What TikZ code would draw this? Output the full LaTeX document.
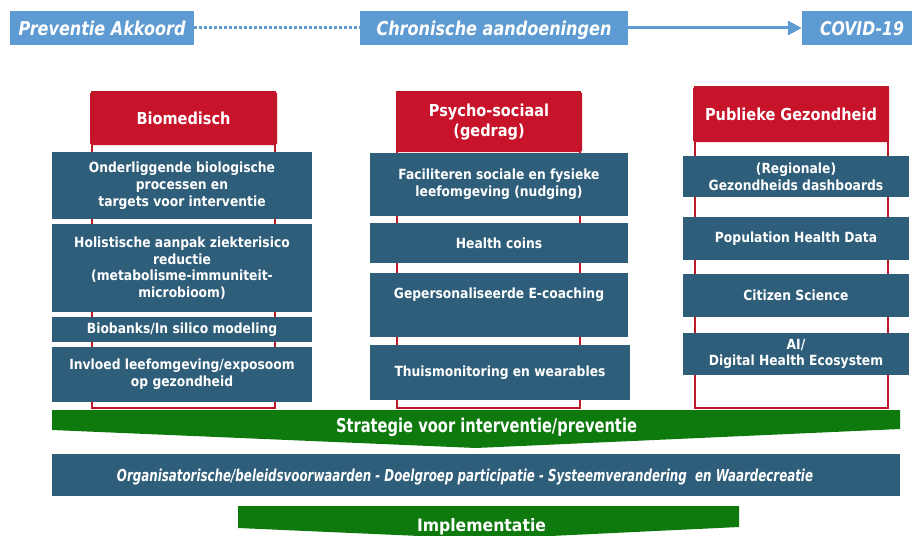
\documentclass[tikz,border=0pt]{standalone}
\usepackage{fontspec}
\usepackage{graphicx}
\setmainfont{DejaVu Sans}[FakeStretch=0.88]
\newfontfamily\heavyfont{DejaVu Sans}
\usetikzlibrary{arrows.meta}
\definecolor{topblue}{RGB}{94,155,210}
\definecolor{boxblue}{RGB}{47,94,122}
\definecolor{hdrred}{RGB}{200,20,42}
\definecolor{framered}{RGB}{190,24,40}
\definecolor{bandgreen}{RGB}{14,122,14}
\begin{document}
\begin{tikzpicture}[x=1pt,y=-1pt,
  topbox/.style={fill=topblue, inner sep=0pt, text=white, text depth=0pt},
  header/.style={fill=hdrred, rounded corners=1.5pt, inner sep=0pt, text=white, align=center,
    font=\bfseries\fontsize{16.5}{20}\selectfont},
  frame/.style={draw=framered, line width=2.2pt},
  bluebox/.style={fill=boxblue, inner sep=0pt, text=white, align=center,
    font=\bfseries\fontsize{14}{16.7}\selectfont},
  coltext/.style={inner sep=0pt, text=white, align=center, font=\bfseries\fontsize{14}{16.7}\selectfont},
  bandtext/.style={inner sep=0pt, text=white, anchor=base, font=\heavyfont\bfseries},
  band/.style={fill=bandgreen}
]
\clip (0,0) rectangle (912,535);
\fill[white] (0,0) rectangle (912,535);

% top row
\node[topbox, minimum width=184pt, minimum height=34pt, font=\heavyfont] (pa) at (102,28)
  {\resizebox{167pt}{14.5pt}{\bfseries\itshape Preventie Akkoord}};
\node[topbox, minimum width=268pt, minimum height=34pt, font=\heavyfont] (ca) at (494,28)
  {\resizebox{235pt}{14.5pt}{\bfseries\itshape Chronische aandoeningen}};
\node[topbox, minimum width=120pt, minimum height=34pt, font=\heavyfont] (cv) at (862,28)
  {\resizebox{84pt}{14pt}{\bfseries\itshape COVID-19}};
\draw[topblue, line width=3pt, dash pattern=on 2.5pt off 2.5pt] (pa.east) -- (ca.west);
\draw[topblue, line width=3pt, -{Triangle[length=14pt,width=14pt]}] (ca.east) -- (cv.west);

% headers
\node[header, minimum width=187pt, minimum height=53pt] (h1) at (183.5,118.5) {Biomedisch};
\node[header, minimum width=186pt, minimum height=60pt] (h2) at (489,122) {Psycho-sociaal\\(gedrag)};
\node[header, minimum width=196pt, minimum height=55pt] (h3) at (791,114.5) {Publieke Gezondheid};
\coordinate (bot) at (0,408);
\draw[frame] ([xshift=2pt]h1.north west) rectangle ([xshift=-2pt]h1.north east |- bot);
\draw[frame] ([xshift=1pt]h2.north west) rectangle ([xshift=-2pt]h2.north east |- bot);
\draw[frame] ([xshift=2pt]h3.north west) rectangle ([xshift=-1pt]h3.north east |- bot);

% column 1
\node[bluebox, minimum width=260pt, minimum height=67pt] (b11) at (182,185.5)
  {Onderliggende biologische\\processen en\\targets voor interventie};
\node[bluebox, minimum width=260pt, minimum height=88pt] (b12) at (182,268)
  {Holistische aanpak ziekterisico\\reductie\\(metabolisme-immuniteit-\\microbioom)};
\node[bluebox, minimum width=260pt, minimum height=25pt] (b13) at (182,329.5)
  {Biobanks/In silico modeling};
\node[bluebox, minimum width=260pt, minimum height=55pt] (b14) at (182,374.5)
  {Invloed leefomgeving/exposoom\\op gezondheid};

% column 2
\node[bluebox, minimum width=258pt, minimum height=63pt] (b21) at (499,184.5)
  {Faciliteren sociale en fysieke\\leefomgeving (nudging)};
\node[bluebox, minimum width=258pt, minimum height=40pt] (b22) at (499,243)
  {Health coins};
\node[bluebox, minimum width=258pt, minimum height=64pt] (b23) at (499,305) {};
\node[coltext] (t23) at (499,295) {Gepersonaliseerde E-coaching};
\node[bluebox, minimum width=260pt, minimum height=55pt] (b24) at (500,372.5)
  {Thuismonitoring en wearables};

% column 3
\node[bluebox, minimum width=226pt, minimum height=41pt] (b31) at (796,176.5)
  {(Regionale)\\Gezondheids dashboards};
\node[bluebox, minimum width=226pt, minimum height=43pt] (b32) at (796,238.5)
  {Population Health Data};
\node[bluebox, minimum width=226pt, minimum height=43pt] (b33) at (796,295.5)
  {Citizen Science};
\node[bluebox, minimum width=226pt, minimum height=42pt] (b34) at (796,354)
  {AI/\\Digital Health Ecosystem};

% strategy band
\fill[band] (52,410) -- (900,410) -- (900,429) -- (476,448) -- (52,430) -- cycle;
\node[bandtext] (st) at (486.5,432)
  {\resizebox{301pt}{14.5pt}{Strategie voor interventie/preventie}};

% conditions bar
\node[fill=boxblue, minimum width=848pt, minimum height=42pt, inner sep=0pt] (bar) at (476,475) {};
\node[bandtext] (bt) at (465,481.5)
  {\resizebox{696pt}{12.5pt}{\itshape Organisatorische/beleidsvoorwaarden - Doelgroep participatie - Systeemverandering\ \ en Waardecreatie}};

% implementation band
\fill[band] (238,506) -- (739,506) -- (739,527) -- (488,539) -- (238,528) -- cycle;
\node[bandtext] (im) at (481.5,531)
  {\resizebox{129pt}{13pt}{Implementatie}};
\end{tikzpicture}
\end{document}
